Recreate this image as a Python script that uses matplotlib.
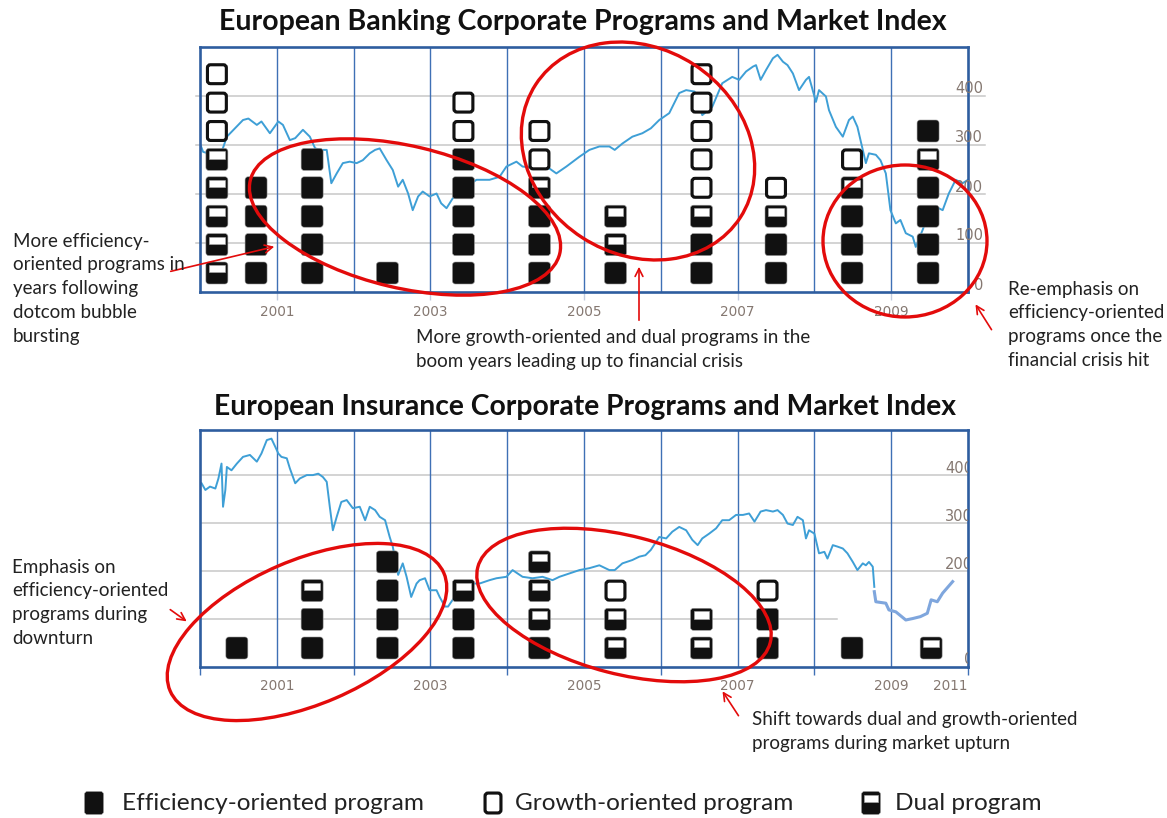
import matplotlib
matplotlib.use("Agg")
import matplotlib.pyplot as plt
from matplotlib.patches import FancyBboxPatch, Rectangle, Ellipse
from matplotlib.transforms import ScaledTranslation

# ---------------- data ----------------
# program columns: year position and stack of programs (bottom -> top)
# E = efficiency-oriented, G = growth-oriented, D = dual
bank_years = [2000.22, 2000.73, 2001.46, 2002.44, 2003.43, 2004.42,
              2005.41, 2006.53, 2007.50, 2008.49, 2009.48]
bank_programs = ["DDDDDGGG", "EEEE", "EEEEE", "E", "EEEEEGG", "EEEDGG",
                 "EDD", "EEDGGGGG", "EEDG", "EEEDG", "EEEEDE"]

ins_years = [2000.48, 2001.46, 2002.44, 2003.43, 2004.42, 2005.41,
             2006.53, 2007.39, 2008.49, 2009.52]
ins_programs = ["E", "EED", "EEEE", "EED", "EDDD", "DDG", "DD", "EEG", "E", "D"]

# European banking market index
bank_t = [2000.00, 2000.04, 2000.26, 2000.35, 2000.56, 2000.63, 2000.74, 2000.80,
          2000.91, 2001.02, 2001.08, 2001.17, 2001.24, 2001.34, 2001.43, 2001.50,
          2001.58, 2001.65, 2001.71, 2001.78, 2001.86, 2001.95, 2002.04, 2002.12,
          2002.21, 2002.28, 2002.34, 2002.43, 2002.51, 2002.58, 2002.64, 2002.71,
          2002.77, 2002.84, 2002.90, 2002.99, 2003.08, 2003.14, 2003.21, 2003.29,
          2003.38, 2003.47, 2003.60, 2003.77, 2003.90, 2003.99, 2004.12, 2004.20,
          2004.42, 2004.55, 2004.64, 2004.77, 2004.94, 2005.07, 2005.20, 2005.33,
          2005.40, 2005.50, 2005.63, 2005.76, 2005.87, 2005.98, 2006.11, 2006.24,
          2006.33, 2006.44, 2006.54, 2006.67, 2006.80, 2006.93, 2007.02, 2007.11,
          2007.20, 2007.24, 2007.30, 2007.37, 2007.46, 2007.52, 2007.59, 2007.65,
          2007.72, 2007.80, 2007.89, 2007.93, 2008.02, 2008.06, 2008.15, 2008.19,
          2008.28, 2008.37, 2008.45, 2008.50, 2008.56, 2008.63, 2008.67, 2008.71,
          2008.80, 2008.86, 2008.93, 2008.99, 2009.06, 2009.12, 2009.19, 2009.28,
          2009.32, 2009.41, 2009.49, 2009.58, 2009.67, 2009.75, 2009.84, 2009.93,
          2010.00]
bank_v = [303, 286, 276, 317, 351, 354, 341, 348,
          324, 348, 341, 310, 314, 331, 317, 293,
          290, 290, 222, 242, 263, 266, 263, 269,
          283, 290, 293, 269, 249, 215, 229, 201,
          167, 195, 205, 195, 201, 181, 171, 191,
          201, 215, 229, 229, 235, 256, 266, 256,
          252, 252, 242, 256, 276, 290, 297, 297,
          290, 303, 317, 324, 334, 351, 365, 406,
          412, 409, 361, 378, 426, 439, 433, 450,
          460, 463, 433, 453, 477, 484, 470, 463,
          446, 412, 433, 439, 388, 412, 399, 371,
          337, 317, 351, 358, 337, 290, 263, 283,
          280, 269, 242, 167, 140, 147, 120, 113,
          92, 127, 161, 174, 167, 201, 229, 222,
          229]

# European insurance market index
ins_t = [2000.02, 2000.07, 2000.13, 2000.20, 2000.24, 2000.28, 2000.30, 2000.33,
         2000.35, 2000.41, 2000.48, 2000.56, 2000.65, 2000.74, 2000.80, 2000.87,
         2000.93, 2000.98, 2001.02, 2001.06, 2001.13, 2001.17, 2001.24, 2001.30,
         2001.39, 2001.47, 2001.54, 2001.60, 2001.65, 2001.69, 2001.73, 2001.78,
         2001.84, 2001.91, 2001.99, 2002.08, 2002.15, 2002.21, 2002.28, 2002.34,
         2002.41, 2002.47, 2002.51, 2002.58, 2002.64, 2002.69, 2002.75, 2002.82,
         2002.86, 2002.93, 2002.99, 2003.08, 2003.12, 2003.19, 2003.23, 2003.29,
         2003.38, 2003.51, 2003.64, 2003.77, 2003.86, 2003.99, 2004.07, 2004.20,
         2004.33, 2004.46, 2004.59, 2004.68, 2004.81, 2004.94, 2005.07, 2005.20,
         2005.33, 2005.40, 2005.50, 2005.63, 2005.72, 2005.80, 2005.87, 2005.98,
         2006.07, 2006.15, 2006.24, 2006.33, 2006.41, 2006.48, 2006.54, 2006.63,
         2006.72, 2006.80, 2006.89, 2006.98, 2007.07, 2007.15, 2007.22, 2007.30,
         2007.37, 2007.46, 2007.52, 2007.59, 2007.65, 2007.72, 2007.78, 2007.85,
         2007.89, 2007.93, 2008.00, 2008.06, 2008.13, 2008.17, 2008.24, 2008.30,
         2008.37, 2008.43, 2008.50, 2008.56, 2008.63, 2008.67, 2008.71, 2008.76,
         2008.78]
ins_v = [383, 369, 376, 372, 393, 424, 334, 369,
         417, 410, 424, 438, 442, 428, 445, 473,
         476, 459, 445, 438, 435, 414, 383, 393,
         400, 400, 403, 396, 386, 334, 285, 313,
         344, 348, 331, 334, 306, 334, 327, 313,
         306, 271, 251, 192, 216, 188, 146, 174,
         181, 185, 160, 160, 146, 126, 126, 140,
         160, 174, 174, 181, 185, 188, 202, 188,
         185, 188, 181, 188, 195, 202, 206, 212,
         202, 202, 216, 223, 230, 233, 244, 271,
         268, 282, 292, 285, 265, 254, 268, 278,
         289, 306, 306, 317, 317, 320, 303, 324,
         327, 324, 327, 317, 299, 296, 313, 306,
         268, 285, 278, 237, 240, 226, 254, 251,
         247, 237, 219, 202, 216, 212, 219, 209,
         167]
# pasted-in tail of the insurance index (lighter line)
ins_tail_t = [2008.78, 2008.80, 2008.93, 2008.97, 2009.06, 2009.19, 2009.28,
              2009.38, 2009.47, 2009.52, 2009.60, 2009.67, 2009.80]
ins_tail_v = [157, 136, 133, 119, 115, 98, 101, 105, 112, 140, 136, 154, 178]

bank_value_labels = [0, 100, 200, 300, 400]
ins_value_labels = [0, 200, 300, 400]
year_labels = ["2001", "2003", "2005", "2007", "2009"]
legend_labels = ["Efficiency-oriented program", "Growth-oriented program", "Dual program"]
legend_kinds = ["E", "G", "D"]

# ---------------- styles ----------------
W, H = 1167, 818
LINE = "#3e9fd6"
TAIL = "#7fa6dd"
VGRID = "#3f70b5"
BORDER = "#2e5d9f"
HGRID = "#c8c8c8"
TICKTXT = "#857871"
RED = "#e30b0b"
INK = "#111111"
TXT = "#222222"
FONT = "Lato"

fig = plt.figure(figsize=(W / 100, H / 100), dpi=100)


def add_marker(ax, x, y, kind, w=0.22, h=0.22):
    """Draw one program square (size in inches) centred on data point (x, y)."""
    tr = fig.dpi_scale_trans + ScaledTranslation(x, y, ax.transData)
    r = 0.03
    if kind == "G":
        s = 0.031
        ax.add_artist(FancyBboxPatch((-w / 2 + s / 2, -h / 2 + s / 2), w - s, h - s,
                                     boxstyle=f"round,pad=0,rounding_size={r}",
                                     fc="white", ec=INK, lw=2.25, transform=tr))
        return
    ax.add_artist(FancyBboxPatch((-w / 2, -h / 2), w, h,
                                 boxstyle=f"round,pad=0,rounding_size={r}",
                                 fc=INK, ec="#9a9a9a", lw=0.4, transform=tr))
    if kind == "D":
        iw, ih = w * 0.7, h * 0.34
        ax.add_artist(Rectangle((-iw / 2, h / 2 - 0.03 - ih), iw, ih,
                                fc="white", ec="#b0b0b0", lw=0.4, transform=tr))


def panel(rect, t, v, ymax, slot_lim, years, programs, grid_vals, value_labels,
          label_dx, bottom_panel):
    ax = fig.add_axes(rect)
    ax.set_xlim(2000, 2010)
    ax.set_ylim(0, ymax)
    for yr in range(2001, 2010):
        ax.axvline(yr, color=VGRID, lw=1.0, zorder=1)
    for g in grid_vals:
        if bottom_panel and g == 100:
            ax.axhline(g, xmax=0.83, color=HGRID, lw=1.1, zorder=0.5)
        elif bottom_panel:
            ax.axhline(g, color=HGRID, lw=1.1, zorder=0.5)
        else:
            ax.axhline(g, xmin=-0.005, xmax=1.022, color=HGRID, lw=1.1,
                       zorder=0.5, clip_on=False)
    ax.plot(t, v, color=LINE, lw=1.4, zorder=2)
    for sp in ax.spines.values():
        sp.set_color(BORDER)
        sp.set_linewidth(1.9)
        sp.set_zorder(5)
    ax.set_yticks([])
    ax.set_xticks([2001, 2003, 2005, 2007, 2009], year_labels)
    ax.tick_params(axis="x", length=6, width=1.0, color="#c3cde0",
                   labelcolor=TICKTXT, labelsize=9.8, pad=3)
    for val in value_labels:
        ax.annotate(str(val), xy=(1, val), xycoords=("axes fraction", "data"),
                    xytext=(label_dx, 7), textcoords="offset pixels",
                    ha="right", va="center", fontsize=10.5, color=TICKTXT,
                    annotation_clip=False, clip_on=bottom_panel, zorder=6)

    axm = ax.twinx()
    axm.set_ylim(*slot_lim)
    axm.axis("off")
    for x, stack in zip(years, programs):
        for i, kind in enumerate(stack):
            add_marker(axm, x, i + 1, kind)
    return ax


# top: banking
panel([200 / W, 1 - 292 / H, 768 / W, 245 / H], bank_t, bank_v, 500, (0.331, 8.958),
      bank_years, bank_programs, [100, 200, 300, 400], bank_value_labels, 15, False)

# bottom: insurance
ax_ins = panel([200 / W, 1 - 667 / H, 768 / W, 237 / H], ins_t, ins_v, 494,
               (0.338, 8.596), ins_years, ins_programs, [100, 200, 300, 400],
               ins_value_labels, 5, True)
ax_ins.plot(ins_tail_t, ins_tail_v, color=TAIL, lw=2.2, zorder=2)
ax_ins.set_xticks([2001, 2003, 2005, 2007, 2009, 2009.77], year_labels + ["2011"])
ax_ins.set_xticks(range(2000, 2011), minor=True)
ax_ins.tick_params(axis="x", which="major", length=0, pad=9)
ax_ins.tick_params(axis="x", which="minor", length=6, width=1.0, color=VGRID)

# ---------------- overlay in pixel coordinates ----------------
ov = fig.add_axes([0, 0, 1, 1], zorder=10)
ov.set_xlim(0, W)
ov.set_ylim(H, 0)
ov.axis("off")

ov.text(583, 22, "European Banking Corporate Programs and Market Index",
        ha="center", va="center", fontsize=20.5, weight="bold", family=FONT, color="#111")
ov.text(585, 407, "European Insurance Corporate Programs and Market Index",
        ha="center", va="center", fontsize=20.3, weight="bold", family=FONT, color="#111")

for (cx, cy, ew, eh, ang) in [(405, 217, 318, 142, 13.3), (638, 151, 244, 206, 33),
                              (905, 241, 164, 152, 0), (307, 632, 298, 144, -23.3),
                              (624, 605, 302, 138, 14.5)]:
    ov.add_patch(Ellipse((cx, cy), ew, eh, angle=ang, fill=False, ec=RED, lw=2.4))

for tail, tip in [((168, 272), (277, 246)), ((639, 323), (639, 264)),
                  ((993, 332), (974, 302)), ((168, 608), (189, 623)),
                  ((740, 718), (721, 689))]:
    ov.annotate("", xy=tip, xytext=tail,
                arrowprops=dict(arrowstyle="->", color=RED, lw=1.2, mutation_scale=14))

notes = [
    (13, 241, ["More efficiency-", "oriented programs in", "years following",
               "dotcom bubble", "bursting"]),
    (416, 338, ["More growth-oriented and dual programs in the",
                "boom years leading up to financial crisis"]),
    (1008, 289, ["Re-emphasis on", "efficiency-oriented", "programs once the",
                 "financial crisis hit"]),
    (12, 567, ["Emphasis on", "efficiency-oriented", "programs during", "downturn"]),
    (752, 720, ["Shift towards dual and growth-oriented",
                "programs during market upturn"]),
]
for x0, y0, lines in notes:
    for i, line in enumerate(lines):
        ov.text(x0, y0 + i * 23.8, line, ha="left", va="center", fontsize=13.5,
                family=FONT, color=TXT)

# legend
for (mx, tx), kind, lab in zip([(94, 122), (493, 515), (871, 895)], legend_kinds,
                               legend_labels):
    add_marker(ov, mx, 803, kind, w=0.19, h=0.23)
    ov.text(tx, 803, lab, ha="left", va="center", fontsize=17.6, family=FONT, color=TXT)

fig.savefig("out.png", dpi=100)
